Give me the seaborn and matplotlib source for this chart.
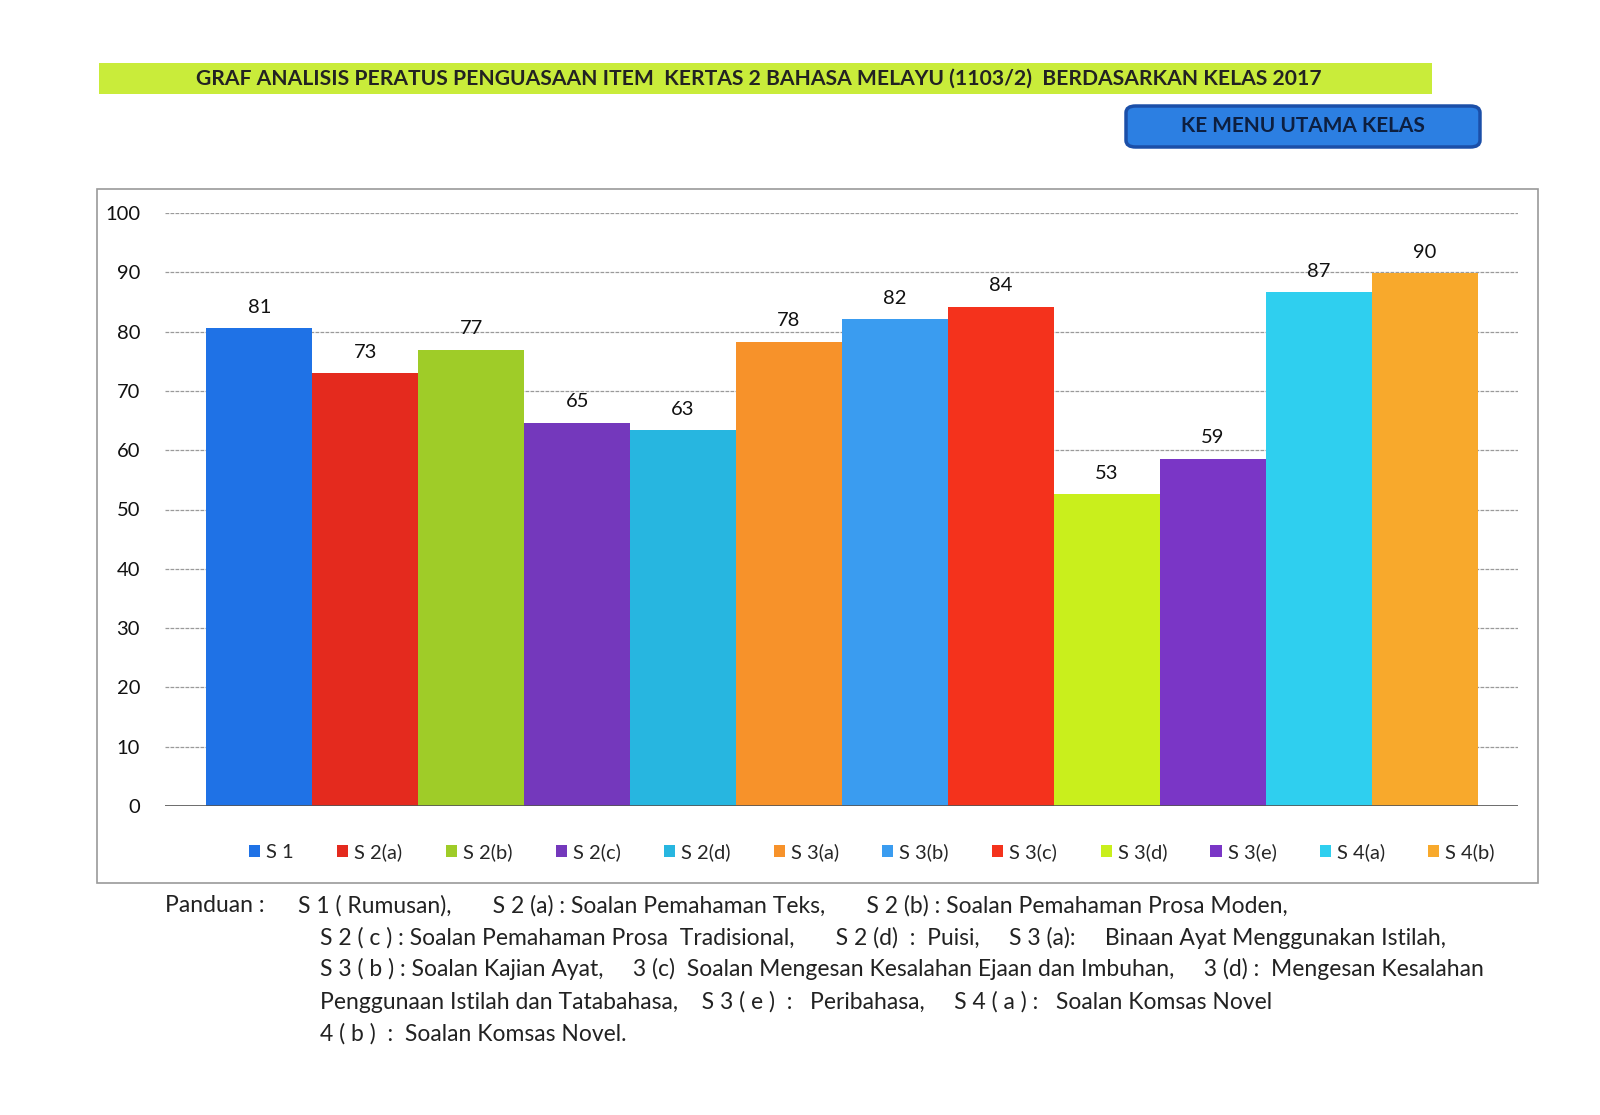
import matplotlib
matplotlib.use("Agg")
import matplotlib.pyplot as plt
import seaborn as sns
import pandas as pd
from matplotlib.patches import Rectangle, FancyBboxPatch, Patch

# data
categories = ["S 1", "S 2(a)", "S 2(b)", "S 2(c)", "S 2(d)", "S 3(a)",
              "S 3(b)", "S 3(c)", "S 3(d)", "S 3(e)", "S 4(a)", "S 4(b)"]
values = [80.6, 73.0, 76.9, 64.6, 63.4, 78.3, 82.1, 84.2, 52.6, 58.6, 86.6, 89.8]
yticks = [0, 10, 20, 30, 40, 50, 60, 70, 80, 90, 100]

title = "GRAF ANALISIS PERATUS PENGUASAAN ITEM  KERTAS 2 BAHASA MELAYU (1103/2)  BERDASARKAN KELAS 2017"
button_text = "KE MENU UTAMA KELAS"
guide_label = "Panduan :"
guide_lines = [
    "S 1 ( Rumusan),       S 2 (a) : Soalan Pemahaman Teks,       S 2 (b) : Soalan Pemahaman Prosa Moden,",
    "S 2 ( c ) : Soalan Pemahaman Prosa  Tradisional,       S 2 (d)  :  Puisi,     S 3 (a):     Binaan Ayat Menggunakan Istilah,",
    "S 3 ( b ) : Soalan Kajian Ayat,     3 (c)  Soalan Mengesan Kesalahan Ejaan dan Imbuhan,     3 (d) :  Mengesan Kesalahan",
    "Penggunaan Istilah dan Tatabahasa,    S 3 ( e )  :   Peribahasa,     S 4 ( a ) :   Soalan Komsas Novel",
    "4 ( b )  :  Soalan Komsas Novel.",
]

palette = ["#1f72e6", "#e42a1e", "#9fcc28", "#7438bc", "#27b6e0", "#f7922a",
           "#3a9cf0", "#f4321c", "#c9ef1c", "#7a36c6", "#2fcfef", "#f8a92c"]

sns.set_style("white")
plt.rcParams["font.family"] = ["Lato", "DejaVu Sans"]

W, H = 1600, 1115
fig = plt.figure(figsize=(16, 11.15), dpi=100)

def fx(px):
    return px / W

def fy(py):
    return 1 - py / H

# outer chart frame
fig.patches.append(Rectangle((fx(97), fy(883)), fx(1538) - fx(97), fy(189) - fy(883),
                             transform=fig.transFigure, fill=False,
                             edgecolor="#9a9a9a", linewidth=1.2, zorder=0))

ax = fig.add_axes([fx(165), fy(806), fx(1518) - fx(165), fy(213) - fy(806)])
df = pd.DataFrame({"cat": categories, "val": values})
sns.barplot(data=df, x="cat", y="val", hue="cat", palette=palette,
            width=1.0, legend=False, saturation=1, linewidth=0,
            ax=ax, zorder=2)

for cont in ax.containers:
    ax.bar_label(cont, fmt="%.0f", padding=9, fontsize=14.5, color="#111111")

ax.set_ylim(0, 100)
ax.set_xlim(-0.5 - 0.39, len(categories) - 0.5 + 0.38)
ax.set_yticks(yticks)
ax.set_xticks([])
ax.set_xlabel("")
ax.set_ylabel("")
ax.tick_params(axis="y", length=0, pad=18, labelsize=14.5, labelcolor="#111111")
ax.grid(axis="y", color="#9a9a9a", linewidth=0.9, linestyle=(0, (3, 1)), zorder=0)
ax.axhline(0, color="#555555", linewidth=1.2, zorder=3)
for s in ax.spines.values():
    s.set_visible(False)

handles = [Patch(facecolor=c, edgecolor="none") for c in palette]
fig.legend(handles, categories, loc="center", bbox_to_anchor=(fx(872), fy(852)),
           ncol=len(categories), frameon=False, fontsize=14.5,
           handlelength=0.55, handleheight=0.55, handletextpad=0.3,
           columnspacing=2.15)

# title bar
fig.patches.append(Rectangle((fx(99), fy(94)), fx(1432) - fx(99), fy(63) - fy(94),
                             transform=fig.transFigure, facecolor="#c9ec3a",
                             edgecolor="none", zorder=0))
fig.text(fx(759), fy(78.5), title, ha="center", va="center", fontsize=15.2,
         fontweight="bold", color="#222222")

# button
fig.patches.append(FancyBboxPatch((fx(1126), fy(147)), fx(1480) - fx(1126), fy(106) - fy(147),
                                  boxstyle="round,pad=0,rounding_size=0.006",
                                  transform=fig.transFigure, facecolor="#2c7fe2",
                                  edgecolor="#1b4fa8", linewidth=2.5, zorder=0))
fig.text(fx(1303), fy(126), button_text, ha="center", va="center", fontsize=15,
         fontweight="bold", color="#0d1f40")

# guide text under the chart
fig.text(fx(165), fy(906), guide_label, ha="left", va="center", fontsize=16.5, color="#222222")
line_y = [906, 938, 969, 1002, 1034]
for i, (line, y) in enumerate(zip(guide_lines, line_y)):
    x0 = 298 if i == 0 else 320
    fig.text(fx(x0), fy(y), line, ha="left", va="center", fontsize=16.5, color="#222222")

fig.savefig("out.png", dpi=100, facecolor="white")
